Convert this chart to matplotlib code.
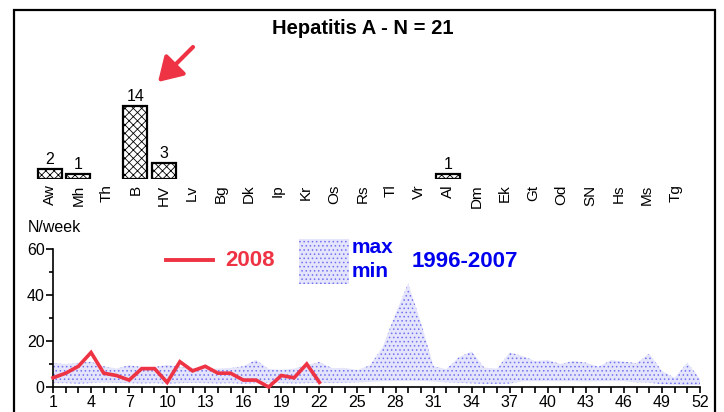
import matplotlib
matplotlib.use("Agg")
import matplotlib.pyplot as plt
from matplotlib.patches import Rectangle, FancyArrowPatch
from matplotlib.lines import Line2D
import numpy as np

plt.rcParams['font.family'] = ['Liberation Sans', 'DejaVu Sans']
plt.rcParams['hatch.linewidth'] = 0.6

# ---- data ----
title = "Hepatitis A - N = 21"
categories = ["Aw", "Mh", "Th", "B", "HV", "Lv", "Bg", "Dk", "Ip", "Kr", "Os", "Rs",
              "Tl", "Vr", "Al", "Dm", "Ek", "Gt", "Od", "SN", "Hs", "Ms", "Tg"]
counts = [2, 1, 0, 14, 3, 0, 0, 0, 0, 0, 0, 0, 0, 0, 1, 0, 0, 0, 0, 0, 0, 0, 0]

weeks = list(range(1, 53))
cases_2008 = [4, 6, 9, 15, 6, 5, 3, 8, 8, 2, 11, 7, 9, 6, 6, 3, 3, 0, 5, 4, 10, 2]
max_1996_2007 = [10.5, 10, 10.5, 11, 9, 8, 9.5, 8.7, 8.7, 9.6, 8.8, 8.3, 8, 8, 8.3, 9,
                 11.8, 7.8, 7.5, 8, 9.5, 10.9, 8.2, 8.3, 7.4, 9.5, 17.5, 32, 45, 28,
                 9, 7.8, 13, 15.4, 8.4, 8, 15, 13.5, 11.3, 11.7, 10, 11.3, 10.6, 8.8,
                 11.7, 11, 10.4, 14.5, 7, 4, 10.6, 3.5]
min_1996_2007 = [1.7, 1.7, 1.5, 1.7, 2, 1.8, 1.7, 1.6, 1.7, 1.5, 1.7, 1.8, 1.7, 1.6,
                 1.7, 1.5, 1.7, 1.8, 1.7, 1.6, 1.7, 1.8, 1.7, 1.8, 2, 2.2, 2.5, 2.6,
                 2.7, 2.6, 2.4, 2, 1.8, 1.6, 1.4, 1.4, 1.5, 2.5, 2.5, 2.6, 2.5, 2.5,
                 2.4, 2.5, 2.6, 2.5, 2, 1.9, 1.2, 1, 0.8, 0.8]

W, H = 724, 412
fig = plt.figure(figsize=(W / 100, H / 100), dpi=100)

def fx(px):
    return px / W

def fy(py):
    return 1 - py / H

# frame
fig.patches.append(Rectangle((fx(14), fy(440)), fx(715) - fx(14), fy(10) - fy(440),
                             transform=fig.transFigure, fill=False,
                             edgecolor='black', linewidth=1.6))

fig.text(fx(363), fy(29), title, ha='center', va='center',
         fontsize=14.5, fontweight='bold')

# ---- top bar chart ----
px_per_unit = 5.2
top_ax = fig.add_axes([fx(35.8), fy(179), fx(689.4) - fx(35.8), (179 - 50) / H])
top_ax.set_xlim(-0.5, len(categories) - 0.5)
top_ax.set_ylim(0, 129 / px_per_unit)
x = np.arange(len(categories))
nz = [i for i, c in enumerate(counts) if c > 0]
top_ax.bar([x[i] for i in nz], [counts[i] for i in nz], width=0.84,
           facecolor='white', edgecolor='black', linewidth=1.6, hatch='xxxx')
for i in nz:
    top_ax.text(x[i], counts[i] + 0.4, str(counts[i]), ha='center', va='bottom',
                fontsize=11.5)
top_ax.set_xticks(x)
top_ax.set_xticklabels(categories, rotation=90, fontsize=11)
top_ax.tick_params(axis='x', length=0, pad=4)
top_ax.set_yticks([])
for s in top_ax.spines.values():
    s.set_visible(False)
top_ax.patch.set_alpha(0)

# arrow
fig.patches.append(FancyArrowPatch(
    (fx(193), fy(47)), (fx(158), fy(82)), transform=fig.transFigure,
    arrowstyle='-|>,head_length=9,head_width=5.5', color='#ee3344',
    linewidth=3.0, mutation_scale=1.6, shrinkA=0, shrinkB=0))

# ---- bottom line chart ----
ax = fig.add_axes([fx(53), fy(387), fx(700) - fx(53), 138 / H])
ax.set_xlim(1, 52)
ax.set_ylim(0, 60)
ax.fill_between(weeks, min_1996_2007, max_1996_2007, facecolor='#e4e4fc',
                edgecolor='#7272f0', hatch='....', linewidth=0)
ax.plot(weeks[:len(cases_2008)], cases_2008, color='#ee3344', linewidth=2.6,
        solid_joinstyle='miter', clip_on=False, zorder=3)
for s in ['top', 'right']:
    ax.spines[s].set_visible(False)
ax.spines['left'].set_linewidth(1.2)
ax.spines['bottom'].set_linewidth(1.2)
ax.set_yticks([0, 20, 40, 60])
ax.set_yticks([10, 30, 50], minor=True)
ax.set_xticks(weeks)
ax.set_xticklabels([str(w) if (w - 1) % 3 == 0 else '' for w in weeks])
ax.tick_params(axis='both', labelsize=11.5, width=1.2, direction='out')
ax.tick_params(axis='x', length=4, pad=2)
ax.tick_params(axis='y', which='major', length=5, pad=1)
ax.tick_params(axis='y', which='minor', length=3, width=1.2)
ax.patch.set_alpha(0)

fig.text(fx(28), fy(228), "N/week", ha='left', va='center', fontsize=11.5)

# legend elements
ax.add_line(Line2D([0.175, 0.247], [0.92, 0.92], transform=ax.transAxes,
                   color='#ee3344', linewidth=2.8, clip_on=False))
ax.text(0.267, 0.92, "2008", transform=ax.transAxes, ha='left', va='center',
        fontsize=16, fontweight='bold', color='#ee3344')
ax.add_patch(Rectangle((0.380, 0.746), 0.077, 0.326, transform=ax.transAxes,
                       facecolor='#e4e4fc', edgecolor='#7272f0', hatch='....',
                       linewidth=0, clip_on=False))
ax.text(0.462, 1.014, "max", transform=ax.transAxes, ha='left', va='center',
        fontsize=15, fontweight='bold', color='#0000ee')
ax.text(0.462, 0.84, "min", transform=ax.transAxes, ha='left', va='center',
        fontsize=15, fontweight='bold', color='#0000ee')
ax.text(0.555, 0.913, "1996-2007", transform=ax.transAxes, ha='left', va='center',
        fontsize=16, fontweight='bold', color='#0000ee')

fig.savefig("out.png", dpi=100)
